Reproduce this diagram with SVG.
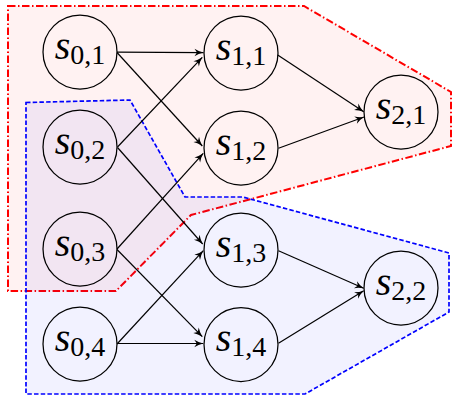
<svg xmlns="http://www.w3.org/2000/svg" width="457" height="404" viewBox="0 0 457 404">
<style>
.bg{fill:#fff}
.red{fill:#ff0000;fill-opacity:0.05;stroke:#ff0000;stroke-width:2;stroke-dasharray:7.5 2.5 1.5 2.5;stroke-linejoin:miter}
.blue{fill:#0000ff;fill-opacity:0.05;stroke:#0000ff;stroke-width:1.7;stroke-dasharray:4.5 2.2}
.node circle{fill:none;stroke:#000;stroke-width:1.25}
.edges line{stroke:#000;stroke-width:1.2;marker-end:url(#ah)}
</style>
<defs>
<marker id="ah" markerUnits="userSpaceOnUse" viewBox="-10 -5 11 10" markerWidth="11" markerHeight="10" refX="0" refY="0" orient="auto">
<path d="M0,0 Q-5,-1.2 -9,-3.8 L-6.5,0 L-9,3.8 Q-5,1.2 0,0 Z" fill="#000"/>
</marker>
</defs>
<rect class="bg" x="0" y="0" width="457" height="404"/>
<g id="regions">
<polygon id="region-red" class="red" points="8,6 304,6 451,92 451,146 191,215 116,291 8,291"/>
<polygon id="region-blue" class="blue" points="26,102.5 130,100 185,197 243,197 449,253 449,312 305,394 26,394"/>
</g>
<g id="connectors" class="edges">
<line x1="117" y1="52.2" x2="203.5" y2="52.6"/>
<line x1="117" y1="52.5" x2="202.3" y2="146"/>
<line x1="117.5" y1="147" x2="202.3" y2="57.3"/>
<line x1="117.5" y1="147.5" x2="202.7" y2="244"/>
<line x1="117" y1="249" x2="203.3" y2="153.3"/>
<line x1="117" y1="249.5" x2="202.3" y2="336.7"/>
<line x1="117" y1="344" x2="203.3" y2="250.7"/>
<line x1="117" y1="343.5" x2="203.3" y2="343.5"/>
<line x1="277.7" y1="55" x2="363.7" y2="111.7"/>
<line x1="278.5" y1="148.3" x2="364" y2="117"/>
<line x1="278.5" y1="250.7" x2="363.7" y2="288.3"/>
<line x1="278.5" y1="343.3" x2="363.7" y2="290.7"/>
</g>
<g font-family="Liberation Serif, Tinos, Times New Roman, DejaVu Serif, serif" font-size="40" text-anchor="middle" fill="#000">
<g id="s01" class="node"><circle cx="80" cy="52" r="37"/><text x="80" y="58.5"><tspan font-style="italic">s</tspan><tspan font-size="28" dy="5">0,1</tspan></text></g>
<g id="s02" class="node"><circle cx="80" cy="147" r="37"/><text x="80" y="153.5"><tspan font-style="italic">s</tspan><tspan font-size="28" dy="5">0,2</tspan></text></g>
<g id="s03" class="node"><circle cx="80" cy="249" r="37"/><text x="80" y="255.5"><tspan font-style="italic">s</tspan><tspan font-size="28" dy="5">0,3</tspan></text></g>
<g id="s04" class="node"><circle cx="80" cy="344" r="37"/><text x="80" y="350.5"><tspan font-style="italic">s</tspan><tspan font-size="28" dy="5">0,4</tspan></text></g>
<g id="s11" class="node"><circle cx="241" cy="53" r="37"/><text x="241" y="59.5"><tspan font-style="italic">s</tspan><tspan font-size="28" dy="5">1,1</tspan></text></g>
<g id="s12" class="node"><circle cx="241" cy="148" r="37"/><text x="241" y="154.5"><tspan font-style="italic">s</tspan><tspan font-size="28" dy="5">1,2</tspan></text></g>
<g id="s13" class="node"><circle cx="241" cy="250" r="37"/><text x="241" y="256.5"><tspan font-style="italic">s</tspan><tspan font-size="28" dy="5">1,3</tspan></text></g>
<g id="s14" class="node"><circle cx="241" cy="344.5" r="37"/><text x="241" y="351"><tspan font-style="italic">s</tspan><tspan font-size="28" dy="5">1,4</tspan></text></g>
<g id="s21" class="node"><circle cx="401" cy="112" r="37"/><text x="401" y="118.5"><tspan font-style="italic">s</tspan><tspan font-size="28" dy="5">2,1</tspan></text></g>
<g id="s22" class="node"><circle cx="401" cy="288" r="37"/><text x="401" y="294.5"><tspan font-style="italic">s</tspan><tspan font-size="28" dy="5">2,2</tspan></text></g>
</g>
</svg>
